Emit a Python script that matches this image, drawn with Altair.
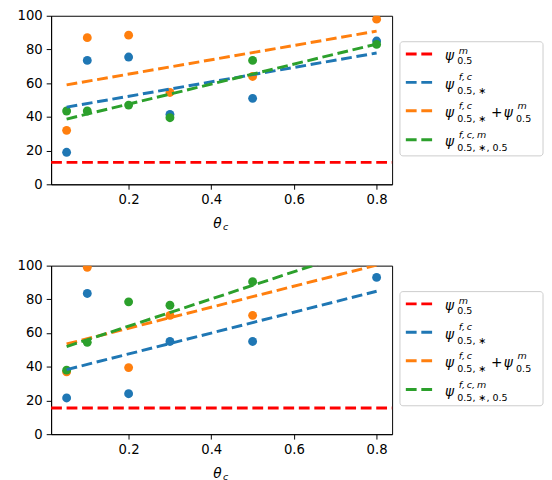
import altair as alt
import pandas as pd

# ---------------- data ----------------
theta = [0.05, 0.1, 0.2, 0.3, 0.5, 0.8]
keys = ["m", "fc", "fcpm", "fcm"]
colors = ["#ff0000", "#1f77b4", "#ff7f0e", "#2ca02c"]

# top panel
top_fc = [19, 73.5, 75.5, 41.5, 51, 85]
top_fcpm = [32, 87, 88.5, 54.5, 64, 98]
top_fcm = [43.5, 43.5, 47, 39.5, 73.5, 83]
top_m = 13

# bottom panel (points at theta=0.8 for orange/green lie above 100)
bot_fc = [21.5, 83.5, 24, 55, 55, 93]
bot_fcpm = [37, 99, 39.5, 70.5, 70.5]
bot_fcm = [38, 54.5, 78.5, 76.5, 90.5]
bot_m = 15.5

# fitted lines (endpoints at theta = 0.05 and 0.8)
fit_theta = [0.05, 0.8]
top_fit_fc = [45.8, 77.9]
top_fit_fcpm = [59.0, 90.9]
top_fit_fcm = [38.7, 83.2]
bot_fit_fc = [38.3, 84.8]
bot_fit_fcpm = [53.5, 100.3]
bot_fit_fcm = [52.0, 112.5]

x_ticks = [0.2, 0.4, 0.6, 0.8]
y_ticks = [0, 20, 40, 60, 80, 100]
x_domain = [0.0125, 0.8375]
y_domain = [0, 100]

# ---------------- style ----------------
W, H = 348, 172
FONT = "DejaVu Sans"
LW = 3
DASH = [11, 4.8]
PSI = 14
SCR = 9.7
cmap = dict(zip(keys, colors))
color_scale = alt.Scale(domain=keys, range=colors)
one = pd.DataFrame({"k": [0]})

XENC = alt.X("theta:Q", scale=alt.Scale(domain=x_domain, nice=False, zero=False),
             axis=alt.Axis(values=x_ticks, format=".1f", title=None, labelOverlap=False))
YENC = alt.Y("value:Q", scale=alt.Scale(domain=y_domain, nice=False, zero=False),
             axis=alt.Axis(values=y_ticks, tickCount=6, format="d", title=None, labelOverlap=False))


def txt(s, x, y, size, italic=False, align="left"):
    return alt.Chart(one).mark_text(
        text=s, font=FONT, fontSize=size,
        fontStyle="italic" if italic else "normal",
        align=align, baseline="alphabetic", color="black",
    ).encode(x=alt.value(x), y=alt.value(y))


def legend_layers():
    layers = []
    layers.append(
        alt.Chart(one).mark_rect(
            fill="white", stroke="#cccccc", strokeWidth=1, cornerRadius=3
        ).encode(x=alt.value(356), x2=alt.value(502), y=alt.value(26.5), y2=alt.value(143))
    )
    rows = [39, 68, 97, 126.5]
    for k, r in zip(keys, rows):
        layers.append(
            alt.Chart(one).mark_rule(color=cmap[k], strokeWidth=LW, strokeDash=DASH)
            .encode(x=alt.value(362), x2=alt.value(390), y=alt.value(r))
        )
    px, sx_sup, sx_sub = 402, 416, 414.5
    r = rows[0]
    layers += [
        txt("ψ", px, r + 6.5, PSI, True),
        txt("m", sx_sup, r + 0, SCR, True),
        txt("0.5", sx_sub, r + 10, SCR),
    ]
    r = rows[1]
    layers += [
        txt("ψ", px, r + 6.5, PSI, True),
        txt("f,\u2009c", sx_sup, r - 2, SCR, True),
        txt("0.5, ∗", sx_sub, r + 11.5, SCR),
    ]
    r = rows[2]
    layers += [
        txt("ψ", px, r + 6.5, PSI, True),
        txt("f,\u2009c", sx_sup, r - 2, SCR, True),
        txt("0.5, ∗", sx_sub, r + 11.5, SCR),
        txt("+", 449, r + 6.5, PSI),
        txt("ψ", 462, r + 6.5, PSI, True),
        txt("m", 476, r - 2, SCR, True),
        txt("0.5", 474.5, r + 11.5, SCR),
    ]
    r = rows[3]
    layers += [
        txt("ψ", px, r + 6.5, PSI, True),
        txt("f,\u2009c,\u2009m", sx_sup, r - 2, SCR, True),
        txt("0.5, ∗, 0.5", sx_sub, r + 11.5, SCR),
    ]
    return layers


def panel(pts, m_val, fits):
    prow = []
    for i, (k, vals) in enumerate(pts):
        for t, v in zip(theta, vals):
            prow.append({"theta": t, "value": v, "s": k, "o": i})
    pdf = pd.DataFrame(prow)

    layers = [
        alt.Chart(pdf).mark_circle(size=82, opacity=1, clip=True).encode(
            x=XENC, y=YENC,
            color=alt.Color("s:N", scale=color_scale, legend=None),
            order=alt.Order("o:Q"),
        ),
        alt.Chart(pd.DataFrame({"value": [m_val]})).mark_rule(
            color=cmap["m"], strokeWidth=LW, strokeDash=DASH
        ).encode(y=YENC, x=alt.value(0), x2=alt.value(W)),
    ]
    for k, vals in fits:
        fdf = pd.DataFrame({"theta": fit_theta, "value": vals})
        layers.append(
            alt.Chart(fdf).mark_line(color=cmap[k], strokeWidth=LW, strokeDash=DASH, clip=True)
            .encode(x=XENC, y=YENC)
        )
    layers += legend_layers()
    layers += [txt("θ", 165.5, 217, PSI, True), txt("c", 175.5, 219, SCR, True)]
    return alt.layer(*layers).properties(width=W, height=H)


top = panel(
    [("fc", top_fc), ("fcpm", top_fcpm), ("fcm", top_fcm)], top_m,
    [("fc", top_fit_fc), ("fcpm", top_fit_fcpm), ("fcm", top_fit_fcm)],
)
bottom = panel(
    [("fc", bot_fc), ("fcpm", bot_fcpm), ("fcm", bot_fcm)], bot_m,
    [("fc", bot_fit_fc), ("fcpm", bot_fit_fcpm), ("fcm", bot_fit_fcm)],
)

chart = (
    alt.vconcat(top, bottom, spacing=25)
    .properties(padding={"left": 8, "top": -5, "right": 0, "bottom": 0}, background="white")
    .configure_view(stroke="black", strokeWidth=1)
    .configure_axis(
        domainColor="black", domainWidth=1, tickColor="black", tickSize=5, tickWidth=1,
        labelFont=FONT, labelFontSize=13.5, labelColor="black", labelPadding=4, grid=False,
        labelOverlap=False, labelFlush=False,
    )
)

chart.save("out.html", embed_options={"renderer": "svg", "actions": False})
